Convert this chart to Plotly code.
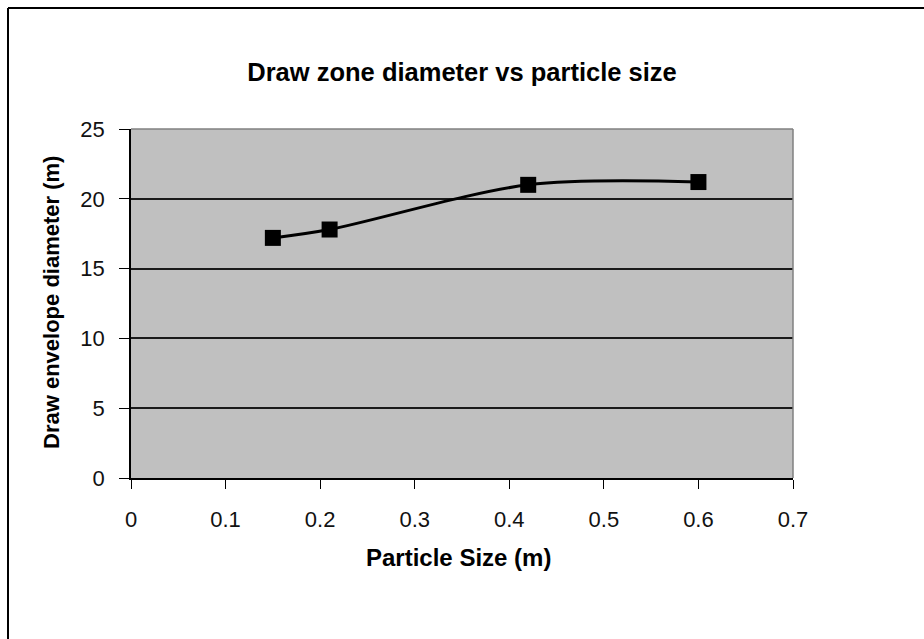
import plotly.graph_objects as go

# Data
particle_size = [0.15, 0.21, 0.42, 0.60]
envelope_diameter = [17.2, 17.8, 21.0, 21.2]

title_text = "Draw zone diameter vs particle size"
x_title = "Particle Size (m)"
y_title = "Draw envelope diameter (m)"
x_ticks = [0, 0.1, 0.2, 0.3, 0.4, 0.5, 0.6, 0.7]
x_ticklabels = ["0", "0.1", "0.2", "0.3", "0.4", "0.5", "0.6", "0.7"]
y_ticks = [0, 5, 10, 15, 20, 25]

W, H = 924, 639
L, R, T, B = 131, 924 - 793, 129, 639 - 478
pw, ph = W - L - R, H - T - B


def px_x(p):
    return (p - L) / pw


def px_y(p):
    return (T + ph - p) / ph


fig = go.Figure()
fig.add_trace(go.Scatter(
    x=particle_size, y=envelope_diameter,
    mode="lines+markers",
    line=dict(color="black", width=3, shape="spline", smoothing=0.9),
    marker=dict(symbol="square", size=16, color="black"),
    showlegend=False,
))

fig.update_layout(
    width=W, height=H,
    margin=dict(l=L, r=R, t=T, b=B, pad=0),
    paper_bgcolor="white",
    plot_bgcolor="#C0C0C0",
    font=dict(family="Liberation Sans, Arial, sans-serif", color="black"),
    title=dict(text="<b>" + title_text + "</b>", x=0.5, xanchor="center",
               y=1 - 72 / H, yanchor="middle",
               font=dict(size=25.5, color="black")),
    xaxis=dict(
        range=[0, 0.7], tickvals=x_ticks, ticktext=x_ticklabels,
        ticks="outside", ticklen=9, tickwidth=1.3, tickcolor="black",
        ticklabelstandoff=12,
        showgrid=False, zeroline=False,
        showline=True, linecolor="black", linewidth=1.5,
        tickfont=dict(size=22, color="#111"),
    ),
    yaxis=dict(
        range=[0, 25], tickvals=y_ticks,
        ticks="outside", ticklen=10, tickwidth=1.3, tickcolor="black",
        ticklabelstandoff=10,
        showgrid=True, gridcolor="#1a1a1a", gridwidth=1.6,
        zeroline=False,
        showline=True, linecolor="black", linewidth=1.5,
        tickfont=dict(size=22, color="#111"),
    ),
    annotations=[
        dict(text="<b>" + x_title + "</b>", xref="paper", yref="paper",
             x=px_x(458), y=px_y(557), xanchor="center", yanchor="middle",
             showarrow=False, font=dict(size=24, color="black")),
        dict(text="<b>" + y_title + "</b>", xref="paper", yref="paper",
             x=px_x(51), y=px_y(303), xanchor="center", yanchor="middle",
             textangle=-90, showarrow=False, font=dict(size=22, color="black")),
    ],
    shapes=[
        # plot area right/top edges (gray)
        dict(type="line", xref="paper", yref="paper", x0=1, x1=1, y0=0, y1=1,
             line=dict(color="#808080", width=1.5)),
        dict(type="line", xref="paper", yref="paper", x0=0, x1=1, y0=1, y1=1,
             line=dict(color="#808080", width=1.5)),
        # outer chart border (top and left visible)
        dict(type="line", xref="paper", yref="paper",
             x0=px_x(8), x1=px_x(W + 20), y0=px_y(8), y1=px_y(8),
             line=dict(color="black", width=2)),
        dict(type="line", xref="paper", yref="paper",
             x0=px_x(8), x1=px_x(8), y0=px_y(8), y1=px_y(H + 20),
             line=dict(color="black", width=2)),
    ],
)

fig.write_html("out.html")
